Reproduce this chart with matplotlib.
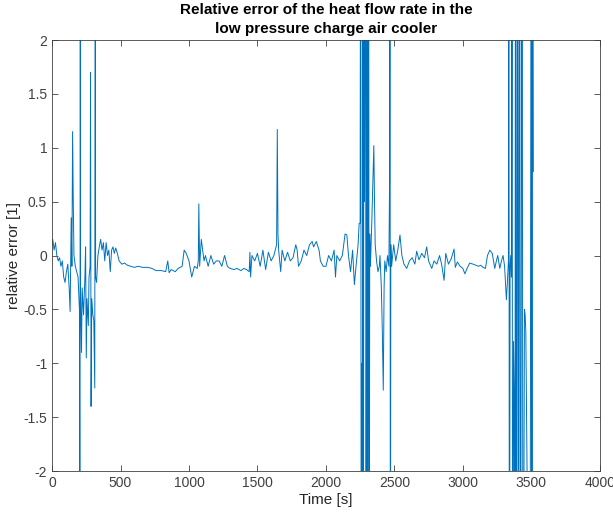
import numpy as np
import matplotlib
matplotlib.use("Agg")
import matplotlib.pyplot as plt

# (time [s], relative error [1]), split in sections
start_part = [(0, 0.10), (5, 0.15), (15, 0.05), (25, 0.12), (35, 0.00), (45, -0.05), (55, -0.02),
              (65, -0.10), (75, -0.05), (85, -0.20), (95, -0.25), (105, -0.15), (115, -0.08),
              (125, -0.30), (132, -0.52), (140, 0.35), (145, -0.10), (150, 1.15), (155, 0.50),
              (160, 0.00), (170, -0.10), (180, -0.15), (190, -0.20), (200, -0.50), (204, -5.0),
              (206, 5.0), (208, -0.30), (215, -0.90), (220, -0.30), (230, -0.55), (240, -0.20),
              (245, 0.08), (250, -0.95), (255, -0.40), (265, -0.65), (270, -0.20), (278, -0.10),
              (281, 1.70), (285, -1.40), (290, -0.40), (298, -0.55), (305, -0.60), (312, -1.23),
              (316, 5.0), (318, -0.20), (325, -0.25), (335, 0.00), (345, 0.08), (355, 0.15),
              (365, 0.05), (375, 0.12), (385, -0.05), (395, 0.12), (405, 0.00), (415, 0.05),
              (425, -0.15), (435, 0.05), (445, 0.08), (455, 0.02), (465, 0.07), (475, 0.03),
              (490, -0.05)]
quiet_part = [(510, -0.08), (530, -0.07), (550, -0.09), (575, -0.10), (600, -0.11), (630, -0.10),
              (660, -0.11), (700, -0.11), (730, -0.12), (760, -0.14), (800, -0.14), (830, -0.15),
              (845, -0.05), (855, -0.16), (870, -0.13), (900, -0.15), (920, -0.12), (950, -0.10),
              (965, 0.05), (980, 0.02), (1000, -0.05), (1020, -0.20), (1040, -0.10), (1060, -0.12),
              (1068, -0.05), (1072, 0.48), (1078, -0.10), (1090, 0.15), (1100, 0.05), (1110, -0.05),
              (1120, 0.00), (1140, -0.10), (1160, 0.00), (1180, -0.08), (1200, -0.05),
              (1220, -0.05), (1240, -0.10), (1260, 0.00), (1280, -0.10), (1300, -0.12),
              (1330, -0.13), (1350, -0.12), (1380, -0.14), (1400, -0.12), (1420, -0.13),
              (1440, -0.15), (1445, 0.03), (1450, -0.20), (1460, 0.00), (1480, -0.05), (1500, 0.02),
              (1520, -0.10), (1540, 0.05), (1560, -0.13), (1580, 0.03), (1600, -0.05), (1620, 0.00),
              (1640, 0.10), (1643, 0.75), (1645, 1.17), (1650, 0.20), (1655, 0.05), (1660, -0.02),
              (1670, -0.15), (1680, 0.05), (1700, -0.05), (1720, 0.03), (1740, -0.05),
              (1760, -0.02), (1780, 0.10), (1790, 0.05), (1800, -0.10), (1820, -0.05), (1840, 0.05),
              (1860, 0.00), (1880, 0.10), (1900, 0.13), (1910, 0.08), (1930, 0.13), (1950, 0.05),
              (1960, -0.05), (1980, -0.10), (2000, -0.10), (2020, 0.00), (2040, -0.05),
              (2060, 0.05), (2070, -0.20), (2080, 0.00), (2100, -0.05), (2120, 0.00), (2140, 0.20),
              (2153, 0.19), (2165, 0.00), (2180, -0.15), (2195, 0.05), (2208, -0.27),
              (2220, -0.10), (2235, 0.10), (2243, 0.30)]
burst_one = [(2250, 0.30), (2254, 5.0), (2258, -5.0), (2262, -1.00), (2266, -5.0), (2270, 5.0),
             (2274, -5.0), (2278, 5.0), (2282, 0.50), (2290, 5.0), (2293, -5.0), (2300, 5.0),
             (2305, -5.0), (2312, 5.0), (2316, -5.0), (2320, 0.20), (2325, -0.10), (2335, 0.30),
             (2345, 0.80), (2350, 1.02), (2355, 0.50), (2360, 0.10), (2370, -0.05), (2380, -0.15),
             (2390, -0.10), (2395, 0.00), (2405, -0.30), (2412, -0.70), (2419, -1.25),
             (2425, -0.30), (2430, -0.05), (2440, -0.15), (2450, 0.00), (2460, -0.10),
             (2465, 0.70), (2468, 5.0), (2471, -5.0), (2474, 0.10)]
late_part = [(2480, -0.10), (2495, 0.10), (2510, -0.05), (2525, 0.05), (2541, 0.19), (2555, 0.00),
             (2570, -0.08), (2590, -0.12), (2610, -0.05), (2630, -0.02), (2650, -0.08),
             (2663, 0.04), (2680, -0.04), (2700, 0.02), (2720, -0.02), (2736, 0.08), (2750, -0.05),
             (2773, -0.12), (2790, -0.05), (2810, -0.08), (2830, 0.00), (2845, -0.08),
             (2863, -0.23), (2875, 0.02), (2895, -0.08), (2915, -0.03), (2936, 0.06),
             (2945, -0.11), (2960, -0.06), (2980, -0.10), (3000, -0.12), (3015, -0.17),
             (3031, -0.12), (3050, -0.07), (3075, -0.08), (3095, -0.09), (3115, -0.10),
             (3130, -0.09), (3148, -0.11), (3165, -0.12), (3180, 0.00), (3197, 0.05),
             (3215, 0.02), (3233, -0.12), (3245, -0.05), (3255, 0.00), (3270, -0.12),
             (3282, -0.05), (3294, 0.00), (3305, -0.10), (3318, -0.41), (3325, -0.26),
             (3333, -0.05)]
burst_two = [(3336, 5.0), (3340, -5.0), (3345, -0.10), (3350, 0.00), (3355, -0.20), (3360, 5.0),
             (3363, -5.0), (3370, -0.80), (3375, -1.27), (3380, -5.0), (3385, 5.0), (3390, -5.0),
             (3395, 0.30), (3400, 5.0), (3405, -5.0), (3410, 1.00), (3415, 5.0), (3420, -5.0),
             (3428, 0.50), (3432, 5.0), (3440, -5.0), (3450, -0.50), (3455, -0.55), (3460, -0.70),
             (3490, -5.0), (3500, 5.0), (3505, -5.0), (3510, 5.0), (3515, 0.78)]

pairs = start_part + quiet_part + burst_one + late_part + burst_two
time_s = [p[0] for p in pairs]
rel_err = [p[1] for p in pairs]

plt.rcParams['font.family'] = ['Liberation Sans', 'DejaVu Sans']

fig = plt.figure(figsize=(6.13, 5.15), dpi=100)
ax = fig.add_axes([0.0849, 0.0854, 0.8935, 0.8369])
ax.plot(time_s, rel_err, color='#0072BD', linewidth=0.7)

ax.set_xlim(0, 4000)
ax.set_ylim(-2, 2)
ax.set_xticks(np.arange(0, 4001, 500))
ax.set_yticks([-2, -1.5, -1, -0.5, 0, 0.5, 1, 1.5, 2])
ax.set_yticklabels(['-2', '-1.5', '-1', '-0.5', '0', '0.5', '1', '1.5', '2'])
ax.tick_params(direction='in', top=True, right=True, labelsize=10, colors='#404040',
               length=4, width=0.6)
for sp in ax.spines.values():
    sp.set_color('#404040')
    sp.set_linewidth(0.6)
ax.set_xlabel('Time [s]', fontsize=11, color='#262626', labelpad=2)
ax.set_ylabel('relative error [1]', fontsize=11, color='#262626', labelpad=2)
ax.set_title('Relative error of the heat flow rate in the\nlow pressure charge air cooler',
             fontsize=11, fontweight='bold', color='black', pad=5, linespacing=1.45)

fig.savefig('out.png', dpi=100)
